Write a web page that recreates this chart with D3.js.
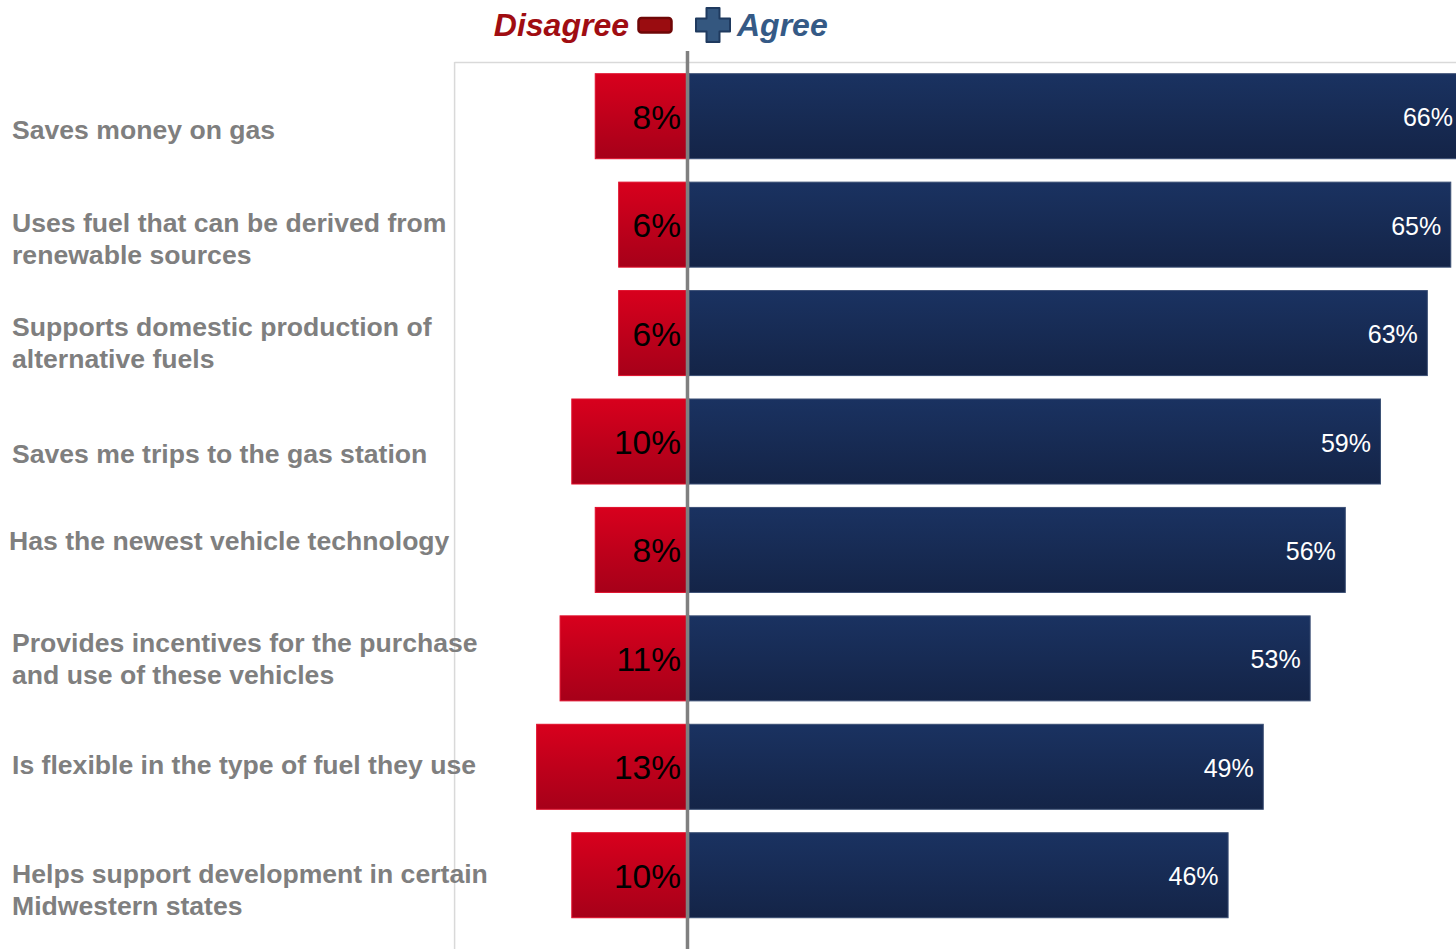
<!DOCTYPE html>
<html>
<head>
<meta charset="utf-8">
<script src="https://cdn.jsdelivr.net/npm/d3@7"></script>
<style>
  html, body { margin: 0; padding: 0; background: #fff; overflow: hidden; }
  svg { display: block; font-family: "Liberation Sans", Arial, sans-serif; }
</style>
</head>
<body>
<svg id="chart" width="1456" height="949"></svg>
<script>
// Survey statements, top to bottom
const categories = [
  "Saves money on gas",
  "Uses fuel that can be derived from|renewable sources",
  "Supports domestic production of|alternative fuels",
  "Saves me trips to the gas station",
  "Has the newest vehicle technology",
  "Provides incentives for the purchase|and use of these vehicles",
  "Is flexible in the type of fuel they use",
  "Helps support development in certain|Midwestern states"
];
const disagree = [8, 6, 6, 10, 8, 11, 13, 10];
const agree = [66, 65, 63, 59, 56, 53, 49, 46];

// small per-label nudges (dx, dy) for the category text block
const labelNudge = [[0, 13.5], [0, 14], [0, 9.5], [0, 12], [-3, -8.5], [0, 0.5], [0, -2], [0, 14.5]];

const W = 1456, H = 949;
const svg = d3.select("#chart");
const defs = svg.append("defs");

const gRed = defs.append("linearGradient").attr("id", "gRed")
  .attr("x1", 0).attr("y1", 0).attr("x2", 0).attr("y2", 1);
gRed.append("stop").attr("offset", "0%").attr("stop-color", "#d8001d");
gRed.append("stop").attr("offset", "100%").attr("stop-color", "#a60019");

const gBlue = defs.append("linearGradient").attr("id", "gBlue")
  .attr("x1", 0).attr("y1", 0).attr("x2", 0).attr("y2", 1);
gBlue.append("stop").attr("offset", "0%").attr("stop-color", "#1a3261");
gBlue.append("stop").attr("offset", "100%").attr("stop-color", "#142447");

// scales
const x = d3.scaleLinear().domain([-20, 66]).range([454.6, 1462.5]);
const y = d3.scaleBand().domain(d3.range(categories.length))
  .range([62, 62 + 8 * 108.43]).paddingInner(0.216).paddingOuter(0.108);

const plotLeft = x(-20), plotTop = 62;

// plot frame (top and left edges)
svg.append("line").attr("x1", plotLeft).attr("x2", W).attr("y1", plotTop + 0.5).attr("y2", plotTop + 0.5)
  .attr("stroke", "#d9d9d9").attr("stroke-width", 1.5);
svg.append("line").attr("x1", plotLeft).attr("x2", plotLeft).attr("y1", plotTop).attr("y2", H)
  .attr("stroke", "#d9d9d9").attr("stroke-width", 1.5);

const clip = defs.append("clipPath").attr("id", "plotClip");
clip.append("rect").attr("x", plotLeft).attr("y", plotTop).attr("width", W - plotLeft).attr("height", H - plotTop);

const plot = svg.append("g").attr("clip-path", "url(#plotClip)");

// disagree bars (to the left of zero)
plot.selectAll("rect.dis").data(disagree).join("rect").attr("class", "dis")
  .attr("x", d => x(-d)).attr("y", (d, i) => y(i))
  .attr("width", d => x(0) - x(-d)).attr("height", y.bandwidth())
  .attr("fill", "url(#gRed)").attr("stroke", "#e0102c").attr("stroke-width", 1);

// agree bars (to the right of zero)
plot.selectAll("rect.agr").data(agree).join("rect").attr("class", "agr")
  .attr("x", x(0)).attr("y", (d, i) => y(i))
  .attr("width", d => x(d) - x(0)).attr("height", y.bandwidth())
  .attr("fill", "url(#gBlue)").attr("stroke", "#3b4f74").attr("stroke-width", 1);

// value labels
svg.selectAll("text.dv").data(disagree).join("text").attr("class", "dv")
  .attr("x", x(0) - 8).attr("y", (d, i) => y(i) + y.bandwidth() / 2 + 1)
  .attr("text-anchor", "end").attr("dominant-baseline", "central")
  .attr("font-size", 33.5).attr("fill", "#000")
  .text(d => d + "%");

svg.selectAll("text.av").data(agree).join("text").attr("class", "av")
  .attr("x", d => x(d) - 9.5).attr("y", (d, i) => y(i) + y.bandwidth() / 2 + 1)
  .attr("text-anchor", "end").attr("dominant-baseline", "central")
  .attr("font-size", 25).attr("fill", "#fff")
  .text(d => d + "%");

// zero line
svg.append("line").attr("x1", x(0) - 1.5).attr("x2", x(0) - 1.5).attr("y1", 51).attr("y2", H)
  .attr("stroke", "#808080").attr("stroke-width", 3.5);

// category labels
const lineH = 32;
categories.forEach((c, i) => {
  const lines = c.split("|");
  const cy = y(i) + y.bandwidth() / 2 + labelNudge[i][1];
  const t = svg.append("text").attr("x", 12 + labelNudge[i][0])
    .attr("font-size", 26.6).attr("font-weight", "bold").attr("fill", "#7f7f7f")
    .attr("dominant-baseline", "central");
  lines.forEach((ln, k) => {
    t.append("tspan").attr("x", 12 + labelNudge[i][0])
      .attr("y", cy + (k - (lines.length - 1) / 2) * lineH).text(ln);
  });
});

// legend
const lg = svg.append("g");
lg.append("text").attr("x", 629).attr("y", 25).attr("text-anchor", "end")
  .attr("dominant-baseline", "central")
  .attr("font-size", 32).attr("font-weight", "bold").attr("font-style", "italic")
  .attr("fill", "#a00d12").text("Disagree");
// minus sign
lg.append("rect").attr("x", 638.5).attr("y", 18).attr("width", 33).attr("height", 14.5).attr("rx", 3)
  .attr("fill", "#9a0c10").attr("stroke", "#6f0707").attr("stroke-width", 2.5);
// plus sign
const px = 713, py = 25, arm = 17, th = 13;
lg.append("path")
  .attr("d", `M${px - th / 2},${py - arm} h${th} v${arm - th / 2} h${arm - th / 2} v${th} h${-(arm - th / 2)} v${arm - th / 2} h${-th} v${-(arm - th / 2)} h${-(arm - th / 2)} v${-th} h${arm - th / 2} Z`)
  .attr("fill", "#34577f").attr("stroke", "#1f3a5f").attr("stroke-width", 2).attr("stroke-linejoin", "round");
lg.append("text").attr("x", 737).attr("y", 25)
  .attr("dominant-baseline", "central")
  .attr("font-size", 32).attr("font-weight", "bold").attr("font-style", "italic")
  .attr("fill", "#355a86").text("Agree");
</script>
</body>
</html>
